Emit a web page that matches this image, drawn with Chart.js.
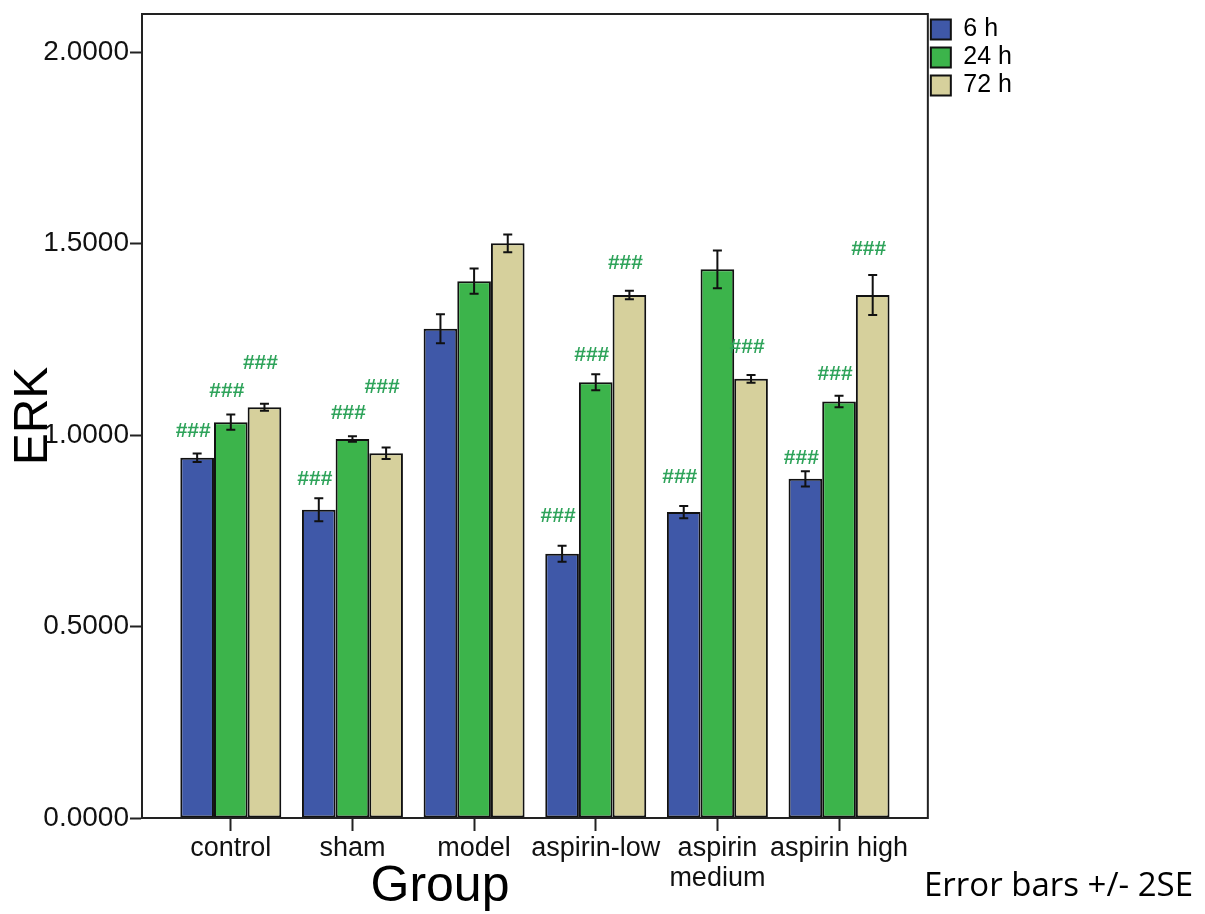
<!DOCTYPE html>
<html>
<head>
<meta charset="utf-8">
<title>ERK by group</title>
<script src="https://cdn.jsdelivr.net/npm/chart.js@4.4.1/dist/chart.umd.min.js"></script>
<style>
  html, body { margin: 0; padding: 0; background: #fff; }
  #wrap { width: 1205px; height: 914px; }
</style>
</head>
<body>
<div id="wrap"><canvas id="myChart" width="1205" height="914"></canvas></div>
<script>
// groups on the x axis
const groups = ['control', 'sham', 'model', 'aspirin-low', ['aspirin', 'medium'], 'aspirin high'];
const seriesNames = ['6 h', '24 h', '72 h'];

// mean ERK per group
const erk6h  = [0.941, 0.805, 1.278, 0.690, 0.799, 0.886];
const erk24h = [1.034, 0.990, 1.402, 1.138, 1.433, 1.088];
const erk72h = [1.073, 0.953, 1.501, 1.366, 1.147, 1.366];

// error bars (+/- 2SE)
const err6h  = [0.011, 0.030, 0.038, 0.021, 0.016, 0.020];
const err24h = [0.020, 0.007, 0.033, 0.021, 0.049, 0.015];
const err72h = [0.009, 0.015, 0.023, 0.011, 0.010, 0.052];

// level (ERK units) where the "###" mark sits, null = no mark
const mark6h  = [1.009, 0.884, null, 0.787, 0.891, 0.941];
const mark24h = [1.116, 1.056, null, 1.208, null, 1.158];
const mark72h = [1.187, 1.124, null, 1.448, 1.229, 1.485];

const yTicks = [0, 0.5, 1.0, 1.5, 2.0];

const FONT = '"Liberation Sans", Arial, sans-serif';
const colors = ['#3f58a8', '#3cb44b', '#d6d09c'];
const values = [erk6h, erk24h, erk72h];
const errors = [err6h, err24h, err72h];
const marks = [mark6h, mark24h, mark72h];

// full box around the plot
const framePlugin = {
    id: 'frame',
    afterDatasetsDraw(chart) {
        const { ctx, chartArea: a } = chart;
        ctx.save();
        ctx.strokeStyle = '#222';
        ctx.lineWidth = 2;
        ctx.strokeRect(a.left, a.top, a.right - a.left, a.bottom - a.top);
        ctx.restore();
    }
};

// error bars and "###" marks
const errorBarPlugin = {
    id: 'errorBars',
    afterDatasetsDraw(chart) {
        const { ctx } = chart;
        const yScale = chart.scales.y;
        ctx.save();
        chart.data.datasets.forEach((ds, d) => {
            const meta = chart.getDatasetMeta(d);
            meta.data.forEach((bar, i) => {
                const v = values[d][i];
                const e = errors[d][i];
                const yHi = yScale.getPixelForValue(v + e);
                const yLo = yScale.getPixelForValue(v - e);
                ctx.strokeStyle = '#111';
                ctx.lineWidth = 2;
                ctx.beginPath();
                ctx.moveTo(bar.x, yHi);
                ctx.lineTo(bar.x, yLo);
                ctx.moveTo(bar.x - 4.5, yHi);
                ctx.lineTo(bar.x + 4.5, yHi);
                ctx.moveTo(bar.x - 4.5, yLo);
                ctx.lineTo(bar.x + 4.5, yLo);
                ctx.stroke();

                const m = marks[d][i];
                if (m !== null) {
                    ctx.fillStyle = '#2ea35a';
                    ctx.font = 'bold 21px ' + FONT;
                    ctx.textAlign = 'center';
                    ctx.textBaseline = 'middle';
                    ctx.fillText('###', bar.x - 4, yScale.getPixelForValue(m));
                }
            });
        });
        ctx.restore();
    }
};

// axis title "Group" and the error bar note
const notesPlugin = {
    id: 'notes',
    afterDraw(chart) {
        const { ctx } = chart;
        ctx.save();
        ctx.fillStyle = '#000';
        ctx.textBaseline = 'alphabetic';
        ctx.font = '50px ' + FONT;
        ctx.textAlign = 'center';
        ctx.fillText('Group', 440, 901);
        ctx.font = '33px "Open Sans", sans-serif';
        ctx.textAlign = 'right';
        ctx.fillText('Error bars +/- 2SE', 1193, 896);
        ctx.restore();
    }
};

const ctx = document.getElementById('myChart').getContext('2d');

new Chart(ctx, {
    type: 'bar',
    data: {
        datasets: seriesNames.map((name, d) => ({
            label: name,
            data: values[d].map((v, i) => ({ x: i, y: v })),
            backgroundColor: colors[d],
            borderColor: '#111',
            borderWidth: 2,
            borderSkipped: false,
            categoryPercentage: 0.83,
            barPercentage: 1.0
        }))
    },
    options: {
        responsive: false,
        animation: false,
        devicePixelRatio: 1,
        layout: { padding: { top: 14, right: 183, bottom: 0, left: 0 } },
        scales: {
            x: {
                type: 'linear',
                min: -0.73,
                max: 5.73,
                offset: false,
                afterBuildTicks(scale) {
                    scale.ticks = groups.map((g, i) => ({ value: i }));
                },
                afterFit(scale) { scale.height = 96; },
                grid: {
                    drawOnChartArea: false,
                    offset: false,
                    tickLength: 13,
                    tickWidth: 2,
                    tickColor: '#222'
                },
                border: { display: true, color: '#222', width: 2 },
                ticks: {
                    autoSkip: false,
                    maxRotation: 0,
                    padding: 2,
                    color: '#111',
                    font: { family: FONT, size: 27, lineHeight: 1.12 },
                    callback: (v) => groups[v]
                }
            },
            y: {
                min: 0,
                max: 2.1,
                afterBuildTicks(scale) {
                    scale.ticks = yTicks.map(v => ({ value: v }));
                },
                afterFit(scale) {
                    scale.width = 142;
                    scale.paddingTop = 0;
                    scale.paddingBottom = 0;
                },
                grid: {
                    drawOnChartArea: false,
                    tickLength: 12,
                    tickWidth: 2,
                    tickColor: '#222'
                },
                border: { display: true, color: '#222', width: 2 },
                ticks: {
                    padding: 1,
                    color: '#111',
                    font: { family: FONT, size: 28 },
                    callback: (v) => v.toFixed(4)
                },
                title: {
                    display: true,
                    text: 'ERK',
                    color: '#000',
                    padding: { top: 5, bottom: 0 },
                    font: { family: FONT, size: 48 }
                }
            }
        },
        plugins: {
            legend: {
                position: 'right',
                align: 'start',
                labels: {
                    boxWidth: 20,
                    boxHeight: 20,
                    padding: 3,
                    color: '#000',
                    font: { family: FONT, size: 25 }
                }
            },
            tooltip: { enabled: false }
        }
    },
    plugins: [framePlugin, errorBarPlugin, notesPlugin]
});
</script>
</body>
</html>
